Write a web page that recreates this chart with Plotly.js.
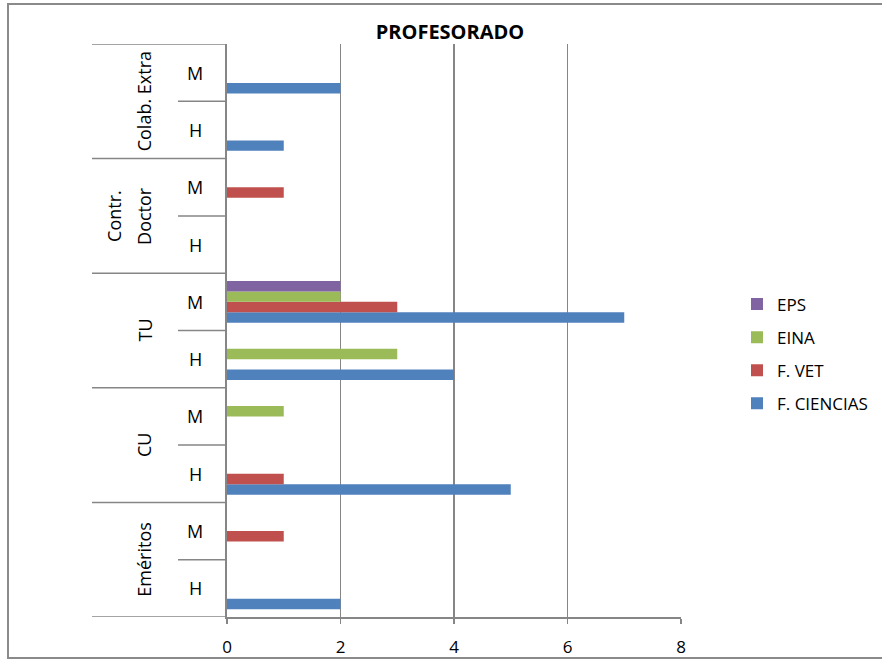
<!DOCTYPE html>
<html>
<head>
<meta charset="utf-8">
<script src="https://cdn.plot.ly/plotly-3.0.1.min.js"></script>
<style>
  html, body { margin: 0; padding: 0; background: #fff; overflow: hidden; }
  #chart { width: 882px; height: 659px; }
</style>
</head>
<body>
<div id="chart"></div>
<script>
// Category groups (bottom to top) and the H / M split inside each group
const groupLines = [['Eméritos'], ['CU'], ['TU'], ['Contr.', 'Doctor'], ['Colab. Extra']];
const sexes = ['H', 'M'];

// Staff counts per category, bottom to top:
// Eméritos H, Eméritos M, CU H, CU M, TU H, TU M, Contr. Doctor H, Contr. Doctor M, Colab. Extra H, Colab. Extra M
const fCiencias = [2, 0, 5, 0, 4, 7, 0, 0, 1, 2];
const fVet      = [0, 1, 1, 0, 0, 3, 0, 1, 0, 0];
const eina      = [0, 0, 0, 1, 3, 2, 0, 0, 0, 0];
const eps       = [0, 0, 0, 0, 0, 2, 0, 0, 0, 0];

const seriesNames = ['F. CIENCIAS', 'F. VET', 'EINA', 'EPS'];
const seriesValues = [fCiencias, fVet, eina, eps];
const seriesColors = ['#4F81BD', '#C0504D', '#9BBB59', '#8064A2'];

const xTicks = [0, 2, 4, 6, 8];

// Unique category keys for the y axis
const categories = [];
groupLines.forEach(g => sexes.forEach(s => categories.push(g.join(' ') + ' ' + s)));

const FONT = '"Open Sans", "Liberation Sans", sans-serif';
const GRID = '#868686';

// bars stack bottom-up within a group; the legend lists the last series first
const traces = seriesNames.map((name, i) => ({
  type: 'bar',
  orientation: 'h',
  name: name,
  legendgroup: name,
  legendrank: seriesNames.length - i,
  y: categories,
  x: seriesValues[i],
  marker: { color: seriesColors[i], line: { width: 0 } },
  hoverinfo: 'x+name'
}));

// Pixel geometry of the plot area
const W = 882, H = 659;
const L = 227, R = 681, T = 44, B = 617;
const pw = R - L, ph = B - T;
const px = x => (x - L) / pw;      // pixel x -> paper x
const py = y => (B - y) / ph;      // pixel y -> paper y

const shapes = [];
// outer group dividers (category boundaries between groups)
for (let g = 0; g <= groupLines.length; g++) {
  const yb = g * sexes.length - 0.5;
  shapes.push({
    type: 'line', xref: 'paper', yref: 'y',
    x0: px(92), x1: 0, y0: yb, y1: yb,
    line: { color: GRID, width: 1.5 }
  });
}
// inner dividers between H and M
for (let g = 0; g < groupLines.length; g++) {
  const yb = g * sexes.length + 0.5;
  shapes.push({
    type: 'line', xref: 'paper', yref: 'y',
    x0: px(178), x1: 0, y0: yb, y1: yb,
    line: { color: GRID, width: 1.5 }
  });
}
// chart frame (its right edge runs past the page)
shapes.push({
  type: 'rect', xref: 'paper', yref: 'paper',
  x0: px(8), x1: px(960), y0: py(658), y1: py(4),
  line: { color: '#8a8a8a', width: 2 }
});

const annotations = [];
// H / M labels
categories.forEach((c, i) => {
  annotations.push({
    xref: 'paper', yref: 'y', x: px(195), y: i,
    text: sexes[i % sexes.length], showarrow: false,
    xanchor: 'center', yanchor: 'middle',
    font: { family: FONT, size: 18, color: '#000' }
  });
});
// rotated group labels
groupLines.forEach((lines, g) => {
  lines.forEach((t, k) => {
    annotations.push({
      xref: 'paper', yref: 'y',
      x: px(144 - (lines.length - 1 - k) * 30), y: g * sexes.length + 0.5,
      text: t, showarrow: false, textangle: -90,
      xanchor: 'center', yanchor: 'middle',
      font: { family: FONT, size: 18, color: '#000' }
    });
  });
});

const layout = {
  width: W, height: H,
  margin: { l: L, r: W - R, t: T, b: H - B, pad: 0, autoexpand: false },
  paper_bgcolor: '#fff', plot_bgcolor: '#fff',
  title: {
    text: '<b>PROFESORADO</b>',
    x: px(450), xref: 'paper', xanchor: 'center',
    y: 1 - 32 / H, yref: 'container', yanchor: 'middle',
    font: { family: FONT, size: 20, color: '#000' }
  },
  barmode: 'group',
  bargap: 0.27,
  bargroupgap: 0,
  xaxis: {
    range: [0, 8], tickvals: xTicks, ticktext: xTicks.map(String),
    showgrid: true, gridcolor: GRID, gridwidth: 1.6,
    zeroline: false, showline: true, linecolor: GRID, linewidth: 1.6,
    ticks: 'outside', ticklen: 5, tickcolor: GRID, tickwidth: 1.6,
    ticklabelstandoff: 9,
    tickfont: { family: FONT, size: 17, color: '#000' },
    automargin: false,
    fixedrange: true
  },
  yaxis: {
    type: 'category', categoryorder: 'array', categoryarray: categories,
    range: [-0.5, categories.length - 0.5],
    showticklabels: false, ticks: '', showgrid: false, zeroline: false,
    showline: true, linecolor: GRID, linewidth: 1.6,
    automargin: false,
    fixedrange: true
  },
  legend: {
    x: px(737), xanchor: 'left',
    y: py(354), yanchor: 'middle',
    traceorder: 'grouped',
    tracegroupgap: 8,
    itemwidth: 30,
    font: { family: FONT, size: 17, color: '#000' },
    bgcolor: 'rgba(0,0,0,0)'
  },
  shapes: shapes,
  annotations: annotations,
  showlegend: true
};

Plotly.newPlot('chart', traces, layout, { displayModeBar: false, staticPlot: true });
</script>
</body>
</html>
